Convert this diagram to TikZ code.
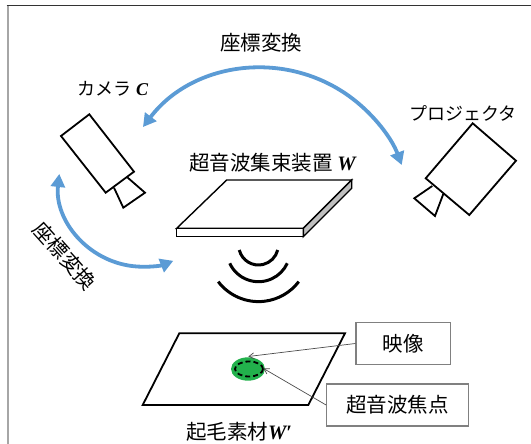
\documentclass[tikz,border=0pt]{standalone}
\usepackage{fontspec}
\setmainfont{Liberation Serif}
\newfontfamily\jpfont{Noto Sans CJK JP}
\usetikzlibrary{arrows.meta}
\definecolor{xfblue}{RGB}{91,155,213}
\definecolor{spotgreen}{RGB}{34,177,76}
\definecolor{boxgray}{RGB}{128,128,128}
\definecolor{sidegray}{RGB}{191,191,191}
\begin{document}
\begin{tikzpicture}[x=1pt,y=-1pt,
  kanji/.style={font=\jpfont\fontsize{20.5}{24}\selectfont, inner sep=0pt},
  kana/.style={font=\jpfont\fontsize{18}{21}\selectfont, inner sep=0pt},
  xfarrow/.style={xfblue, line width=3.8pt,
    {Triangle[length=13pt,width=14pt]}-{Triangle[length=13pt,width=14pt]}},
  outline/.style={line width=1.8pt, line join=miter},
  wave/.style={line width=3pt},
  labelbox/.style={draw=boxgray, line width=1.2pt, fill=white, inner sep=0pt},
  pointer/.style={draw=black!70, line width=0.7pt, -{Straight Barb[length=5pt,width=6pt]}},
]
\useasboundingbox (0,0) rectangle (531,444);

% frame edges
\draw[black!35, line width=2pt] (7.5,6) -- (7.5,444);
\draw[black!80, line width=1pt] (6.5,6) -- (531,6);

% camera C
\draw[outline] (61,136) -- (89.3,114.3) -- (134,171.7) -- (105.7,192.7) -- cycle;
\draw[outline] (127.3,177.3) -- (145,192.7) -- (123.3,207.7) -- (114,187.7);
\node[kana] (camlbl) at (113,89) {カメラ {\rmfamily\bfseries\itshape C}};

% projector
\draw[outline] (472.7,123.3) -- (516,160.7) -- (469.3,215) -- (425.7,178.3) -- cycle;
\draw[outline] (432.3,186) -- (414.3,198.3) -- (435,216) -- (443.3,194);
\node[kana] (projlbl) at (463,113) {プロジェクタ};

% coordinate transforms
\draw[xfarrow] (261.9,217.3) ++(-142.8:149.3) arc[start angle=-142.8, end angle=-20.5, radius=149.3];
\node[kanji] (toplbl) at (261,43) {座標変換};
\draw[xfarrow] (142.5,183) ++(186.2:83.7) arc[start angle=186.2, end angle=68.4, radius=83.7];
\node[kanji, rotate=-48] (sidelbl) at (65,256) {座標変換};

% ultrasound focusing device W
\filldraw[fill=white, line width=1.4pt] (226.7,180) -- (351.7,180) -- (303.3,228.3) -- (176.7,228.3) -- cycle;
\filldraw[fill=white, line width=1.4pt] (176.7,228.3) -- (303.3,228.3) -- (303.3,236.7) -- (176.7,236.7) -- cycle;
\filldraw[fill=sidegray, line width=1.4pt] (303.3,228.3) -- (351.7,180) -- (351.7,188.3) -- (303.3,236.7) -- cycle;
\node[kanji] (devlbl) at (272.5,163) {超音波集束装置 {\rmfamily\bfseries\itshape W}};

% sound waves
\draw[wave] (258.5,245.2) ++(166:19.8) arc[start angle=166, end angle=14, radius=19.8];
\draw[wave] (258.5,250) ++(155.2:31.7) arc[start angle=155.2, end angle=24.8, radius=31.7];
\draw[wave] (258.5,251) ++(142.7:50.6) arc[start angle=142.7, end angle=37.3, radius=50.6];

% raised-pile material W'
\draw[outline] (179.3,333.3) -- (345,333.3) -- (308.3,405) -- (142.7,405) -- cycle;
\node[kanji] (matlbl) at (239,431.5) {起毛素材{\rmfamily\bfseries\itshape W\char"2032}};

% projected image and ultrasound focus
\fill[spotgreen] (248,369) ellipse[x radius=17, y radius=11.7];
\draw[line width=1.8pt, dash pattern=on 5pt off 3pt] (249,369) ellipse[x radius=14, y radius=7.5];
\coordinate (imgtip) at (248.3,356.5);
\coordinate (focustip) at (263.5,368.5);

\node[labelbox, minimum width=94.7pt, minimum height=41.6pt] (imgbox) at (403.3,343.5) {};
\node[kanji] (imglbl) at (imgbox.center) {映像};
\node[labelbox, minimum width=141.6pt, minimum height=42pt] (focusbox) at (397.5,405) {};
\node[kanji] (focuslbl) at (focusbox.center) {超音波焦点};

\draw[pointer] (imgbox.west) -- (imgtip);
\draw[pointer] (focusbox.west) -- (focustip);
\end{tikzpicture}
\end{document}
